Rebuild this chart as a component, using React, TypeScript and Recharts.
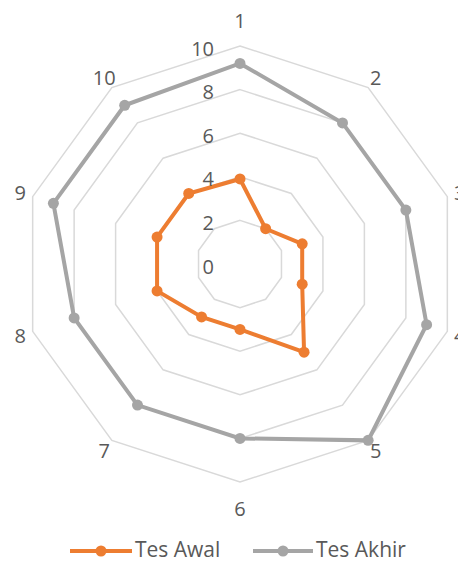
import {
  RadarChart,
  Radar,
  PolarGrid,
  PolarAngleAxis,
  PolarRadiusAxis,
} from "recharts";

// ─── Data ───

const categories = ["1", "2", "3", "4", "5", "6", "7", "8", "9", "10"];
const tesAwal = [3.9, 2, 3, 3, 5, 3, 3, 4, 4, 4];
const tesAkhir = [9.2, 8, 8, 9, 10, 8, 8, 8, 9, 9];
const radiusTicks = [0, 2, 4, 6, 8, 10];

const seriesNames = ["Tes Awal", "Tes Akhir"];
const seriesColors = ["#ED7D31", "#A5A5A5"];

const data = categories.map((name, i) => ({
  name,
  awal: tesAwal[i],
  akhir: tesAkhir[i],
}));

// ─── Layout ───

const W = 466;
const H = 567;
const CX = 240;
const CY = 264;
const R = 218;
const TEXT = "#595959";
const FONT = '"Open Sans", sans-serif';
const RAD = Math.PI / 180;

function AngleTick(props: any) {
  const angle = props.payload.coordinate;
  const c = Math.cos(angle * RAD);
  const s = Math.sin(angle * RAD);
  const r = Math.abs(s) > 0.99 ? 244 : 231;
  const x = CX + r * c;
  const y = CY - r * s;
  return (
    <text
      x={x}
      y={y}
      textAnchor="middle"
      dominantBaseline="central"
      fill={TEXT}
      fontSize={20}
      fontFamily={FONT}
    >
      {props.payload.value}
    </text>
  );
}

function RadiusTick(props: any) {
  return (
    <text
      x={props.x - 26}
      y={props.y + 2}
      textAnchor="end"
      dominantBaseline="central"
      fill={TEXT}
      fontSize={20}
      fontFamily={FONT}
    >
      {props.payload.value}
    </text>
  );
}

const makeDot = (color: string) => (props: any) =>
  (
    <circle
      key={`dot-${props.index}`}
      cx={props.cx}
      cy={props.cy}
      r={5.5}
      fill={color}
      stroke="none"
    />
  );

function LegendBlock() {
  const items = [
    { x: 70, w: 62 },
    { x: 253, w: 60 },
  ];
  return (
    <svg
      width={W}
      height={26}
      style={{ position: "absolute", left: 0, top: 536, overflow: "visible" }}
    >
      {items.map((it, i) => (
        <g key={seriesNames[i]}>
          <line
            x1={it.x}
            x2={it.x + it.w}
            y1={15}
            y2={15}
            stroke={seriesColors[i]}
            strokeWidth={4}
          />
          <circle cx={it.x + it.w / 2} cy={15} r={5.5} fill={seriesColors[i]} />
          <text
            x={it.x + it.w + 3}
            y={21}
            fill={TEXT}
            fontSize={21}
            fontFamily={FONT}
          >
            {seriesNames[i]}
          </text>
        </g>
      ))}
    </svg>
  );
}

export default function App() {
  return (
    <div
      style={{
        position: "relative",
        width: W,
        height: H,
        margin: -8,
        background: "#fff",
        fontFamily: FONT,
      }}
    >
      <RadarChart
        width={W}
        height={H}
        data={data}
        cx={CX}
        cy={CY}
        outerRadius={R}
        margin={{ top: 0, right: 0, bottom: 0, left: 0 }}
      >
        <PolarGrid
          gridType="polygon"
          radialLines={false}
          stroke="#D9D9D9"
          strokeWidth={1.5}
        />
        <PolarAngleAxis
          dataKey="name"
          tick={AngleTick}
          axisLine={false}
          tickLine={false}
        />
        <PolarRadiusAxis
          angle={90}
          domain={[0, 10]}
          ticks={radiusTicks as any}
          tickCount={6}
          axisLine={false}
          tickLine={false}
          tick={RadiusTick}
        />
        <Radar
          name={seriesNames[0]}
          dataKey="awal"
          stroke={seriesColors[0]}
          strokeWidth={4}
          fill="none"
          fillOpacity={0}
          dot={makeDot(seriesColors[0])}
          isAnimationActive={false}
        />
        <Radar
          name={seriesNames[1]}
          dataKey="akhir"
          stroke={seriesColors[1]}
          strokeWidth={4}
          fill="none"
          fillOpacity={0}
          dot={makeDot(seriesColors[1])}
          isAnimationActive={false}
        />
      </RadarChart>
      <LegendBlock />
    </div>
  );
}
